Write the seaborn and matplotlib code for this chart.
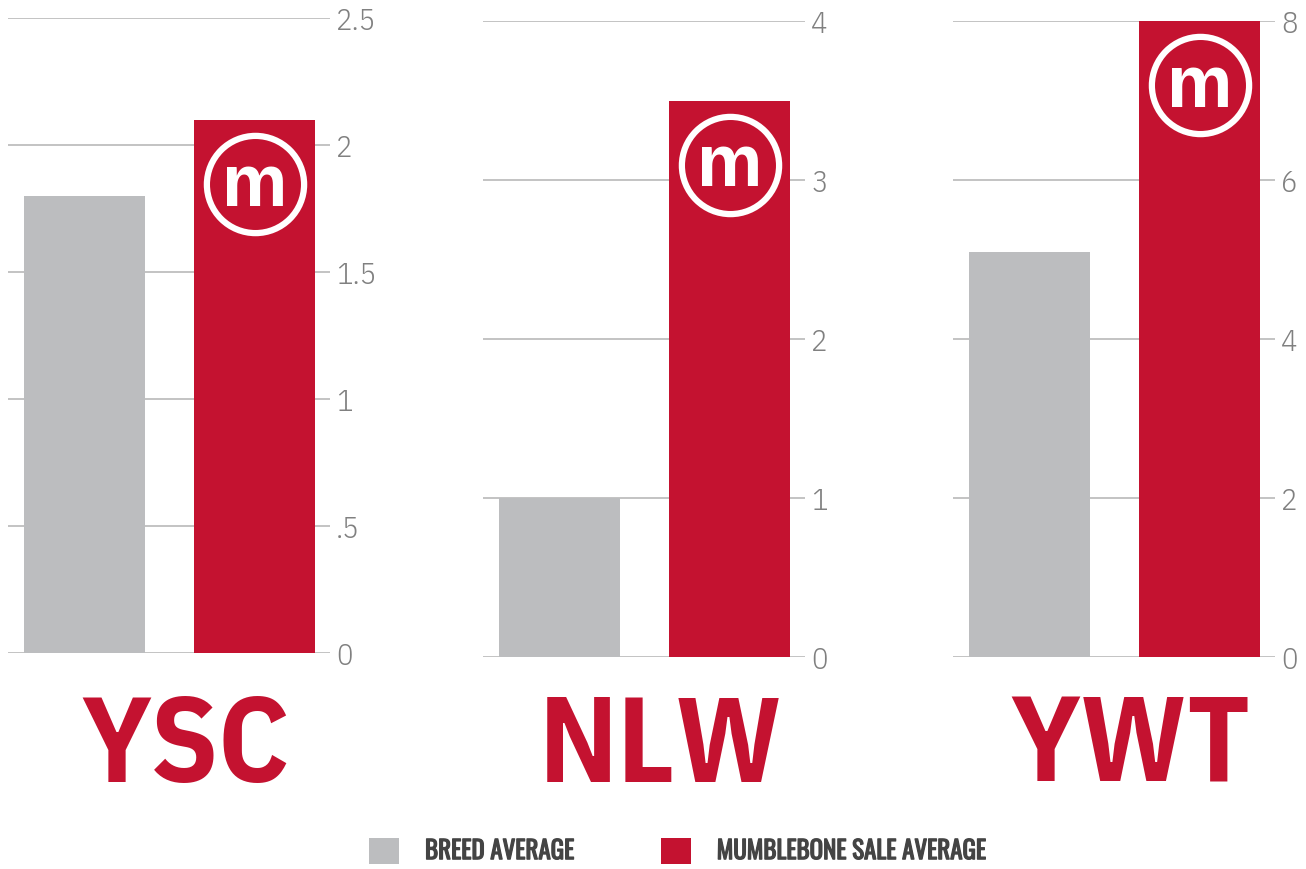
import matplotlib
matplotlib.use('Agg')
import matplotlib.pyplot as plt
import matplotlib.transforms as mtransforms
import matplotlib.patheffects as pe
from matplotlib import font_manager
from matplotlib.patches import Patch
import seaborn as sns

# data
categories = ['YSC', 'NLW', 'YWT']
breed_avg = [1.8, 1.0, 5.1]
sale_avg = [2.1, 3.5, 8.0]
series_names = ['BREED AVERAGE', 'MUMBLEBONE SALE AVERAGE']
y_ticks = [[0, 0.5, 1, 1.5, 2, 2.5], [0, 1, 2, 3, 4], [0, 2, 4, 6, 8]]
y_tick_labels = [['0', '.5', '1', '1.5', '2', '2.5'],
                 ['0', '1', '2', '3', '4'],
                 ['0', '2', '4', '6', '8']]

GREY = '#BCBDBF'
RED = '#C41230'

installed = {f.name for f in font_manager.fontManager.ttflist}


def pick(*names):
    # first installed family, with DejaVu as fallback
    for n in names:
        if n in installed:
            return [n, 'DejaVu Sans']
    return ['DejaVu Sans']


cond = pick('IBM Plex Sans Condensed', 'Roboto Condensed', 'Open Sans Condensed')
big = pick('IBM Plex Sans Condensed', 'Roboto Condensed', 'Open Sans Condensed')
leg_font = pick('Oswald', 'IBM Plex Sans Condensed')
logo_font = pick('Liberation Sans', 'Arimo')

sns.set_style('white')
plt.rcParams['font.family'] = cond

W, H = 1306, 870
fig = plt.figure(figsize=(W / 100, H / 100), dpi=100)

# pixel boxes for each panel: left, top, bottom
boxes = [(8, 19, 654), (483, 22, 658), (953, 22, 658)]
panel_w = 322

for i, cat in enumerate(categories):
    left, top, bottom = boxes[i]
    ax = fig.add_axes([left / W, 1 - bottom / H, panel_w / W, (bottom - top) / H])
    xs = ['breed', 'sale']
    ys = [breed_avg[i], sale_avg[i]]
    sns.barplot(x=xs, y=ys, hue=xs, palette=[GREY, RED], width=0.712, saturation=1,
                legend=False, ax=ax, zorder=3, linewidth=0)
    ax.set_xlim(-0.45, 1.444)
    ax.set_ylim(0, y_ticks[i][-1])
    ax.set_yticks(y_ticks[i])
    ax.set_yticklabels(y_tick_labels[i])
    ax.yaxis.tick_right()
    ax.tick_params(axis='y', length=0, pad=4.5, labelsize=22, labelcolor='#808080')
    for lab in ax.get_yticklabels():
        lab.set_fontweight(300)
    ax.set_xticks([])
    ax.set_xlabel('')
    ax.set_ylabel('')
    ax.grid(axis='y', color='#b3b3b3', linewidth=1.1, zorder=0)
    ax.set_axisbelow(True)
    for s in ax.spines.values():
        s.set_visible(False)

    # logo on top of the sale bar
    shift = mtransforms.ScaledTranslation(0, -64 / 100, fig.dpi_scale_trans)
    ax.plot([1], [sale_avg[i]], marker='o', markersize=70, markerfacecolor='none',
            markeredgecolor='white', markeredgewidth=4.5, linestyle='none',
            transform=ax.transData + shift, zorder=5, clip_on=False)
    shift_m = mtransforms.ScaledTranslation(0, -85 / 100, fig.dpi_scale_trans)
    ax.text(1, sale_avg[i], 'm', color='white', fontsize=53, fontweight='bold',
            family=logo_font, ha='center', va='baseline',
            transform=ax.transData + shift_m, zorder=6)

    # big category label
    fig.text((left + 178) / W, 1 - 782 / H, cat, color=RED, fontsize=87,
             fontweight='bold', family=big, ha='center', va='baseline')

handles = [Patch(facecolor=GREY, edgecolor='none'), Patch(facecolor=RED, edgecolor='none')]
leg = fig.legend(handles, series_names, loc='center', bbox_to_anchor=(678 / W, 1 - 852 / H),
                 ncol=2, frameon=False, prop={'family': leg_font, 'size': 18},
                 handlelength=1.2, handleheight=1.2,
                 handletextpad=1.04, columnspacing=3.44)
for t in leg.get_texts():
    t.set_color('#444444')
    t.set_path_effects([pe.withStroke(linewidth=0.9, foreground='#444444')])

fig.savefig('out.png', dpi=100)
